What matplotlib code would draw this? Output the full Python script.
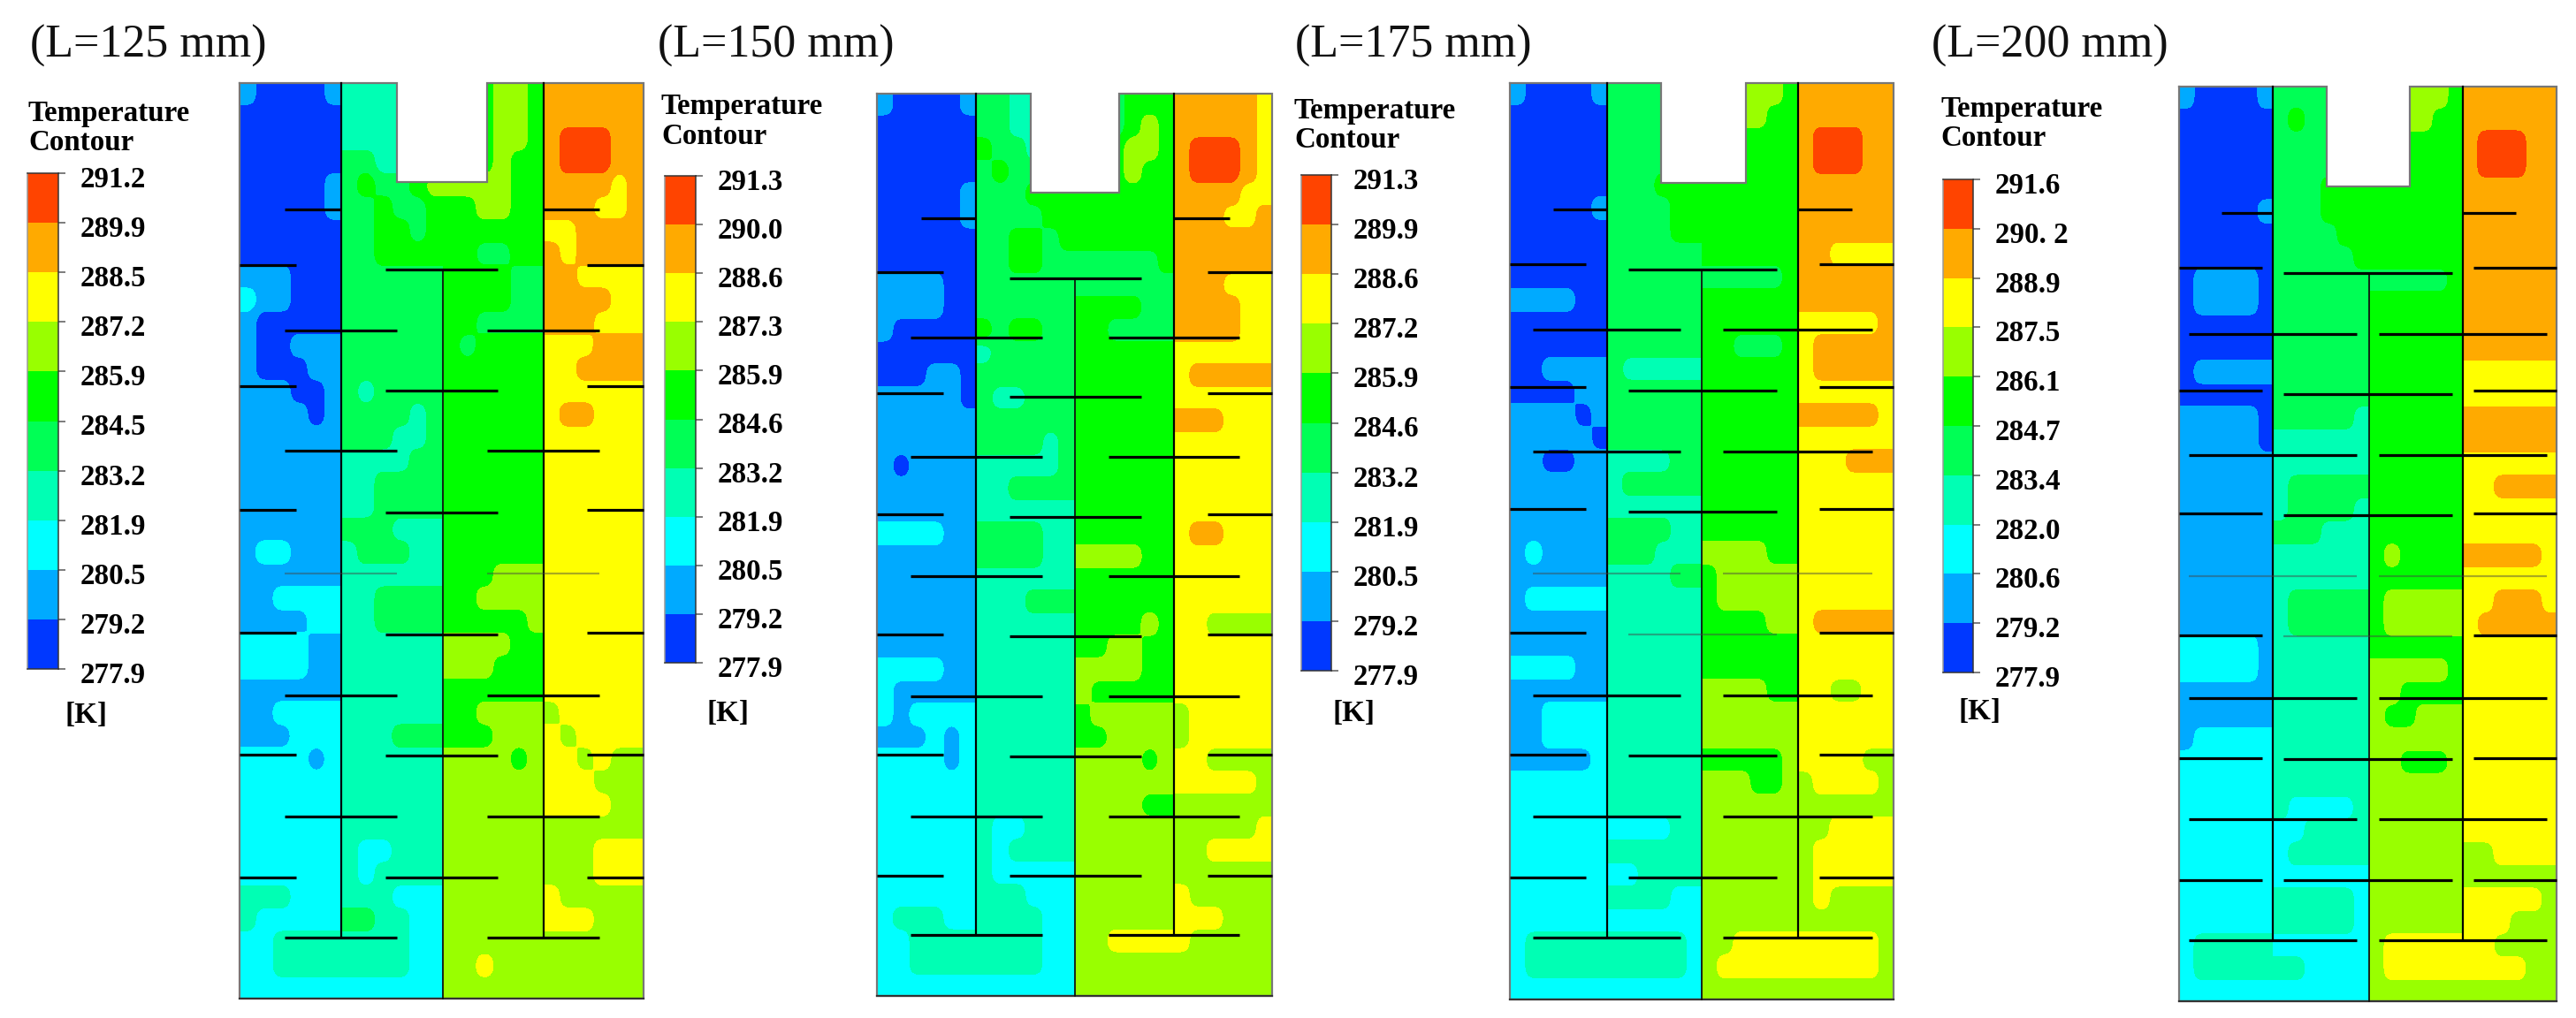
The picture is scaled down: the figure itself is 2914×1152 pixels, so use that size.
import numpy as np
import matplotlib
matplotlib.use("Agg")
import matplotlib.pyplot as plt
from matplotlib.colors import ListedColormap, BoundaryNorm
from matplotlib.patches import Rectangle
from matplotlib.transforms import ScaledTranslation

W, H = 2914, 1152
SERIF = ["Liberation Serif", "DejaVu Serif"]

COLORS = ["#0038ff", "#00aaff", "#00ffff", "#00ffb4", "#00ff55",
          "#00ff00", "#99ff00", "#ffff00", "#ffaa00", "#ff4400"]

TITLES = ["(L=125 mm)", "(L=150 mm)", "(L=175 mm)", "(L=200 mm)"]
LABELS_125 = ["277.9", "279.2", "280.5", "281.9", "283.2", "284.5", "285.9", "287.2", "288.5", "289.9", "291.2"]
LABELS_150 = ["277.9", "279.2", "280.5", "281.9", "283.2", "284.6", "285.9", "287.3", "288.6", "290.0", "291.3"]
LABELS_175 = ["277.9", "279.2", "280.5", "281.9", "283.2", "284.6", "285.9", "287.2", "288.6", "289.9", "291.3"]
LABELS_200 = ["277.9", "279.2", "280.6", "282.0", "283.4", "284.7", "286.1", "287.5", "288.9", "290. 2", "291.6"]

# Temperature band index (0 = coldest) read row by row, four channels per row
FIELD_125 = """100001 333333 555665 888888
000000 333333 555665 888888
000000 333333 555665 899988
000000 443333 555655 899988
000001 454456 666655 888878
000001 445445 556655 888778
000000 445545 555555 778888
000000 445555 554455 878888
111000 444444 555544 887777
211000 444444 555544 888877
100000 444444 554444 888777
100111 444444 545555 777888
100011 444444 555555 778888
111001 434444 555555 777777
111101 444434 555555 788777
111111 444334 555555 777777
111111 333344 555555 777777
111111 334444 555555 777777
111111 334444 555555 777777
111111 444333 555555 777777
122111 344433 555555 777777
111111 333333 555666 777777
112222 334444 556666 777777
111122 334444 555556 777777
222211 333333 666655 777777
222211 333333 666555 777777
111111 333333 555555 777777
112222 333333 556666 677777
111222 333444 555666 767777
222212 333333 666656 776766
222222 333333 666666 777666
222222 333333 666666 777766
222222 333333 666666 666666
222222 322333 666666 666777
222222 323333 666666 666777
333222 333222 666666 766666
322222 443322 666666 777666
223333 333322 666666 666666
223333 333322 667666 666666
222222 222222 666666 666666""".split("\n")

FIELD_150 = """100001 443333 444555 888887
000000 443333 444565 888887
000000 544333 555665 899987
000000 454444 555655 899987
000001 444555 555555 888877
000001 444455 555555 888778
000000 445545 555555 888888
000000 445544 444445 888888
111100 444444 444444 888777
111100 444444 555544 888877
100000 545544 554444 888877
000000 344444 555555 777777
000110 444444 555555 788888
111110 433444 555555 777777
111111 444444 555555 888777
111111 444434 555555 777777
101111 333334 555555 777777
111111 334444 555555 777777
111111 333333 555555 777777
222211 444433 555555 788777
111111 444433 666655 777777
111111 333333 555555 777777
111111 333444 555555 777777
111111 333333 555565 776666
111111 333333 556655 777777
222211 333333 666655 777777
211111 333333 655555 777777
212222 333333 566666 677777
111212 333333 556666 677777
222212 333333 666656 776666
222222 333333 666666 777776
222222 333333 666655 666666
222222 322333 666666 666667
222222 323333 666666 667777
222222 322222 666666 666666
222222 333222 666666 766666
233322 333322 666666 777666
223333 333322 667777 766666
223333 333322 666666 666666
222222 222222 666666 666666""".split("\n")

FIELD_175 = """100001 444444 666665 888888
000000 444444 666655 888888
000000 444444 555555 899988
000000 444444 555555 899988
000000 444555 555555 888888
000001 444455 555555 888888
000000 444455 555555 888888
000000 444444 555555 887777
000000 444444 444445 888888
111100 444444 555555 888888
000000 444444 555555 777778
000000 444444 554445 788888
001111 433333 555555 788888
000011 444444 555555 777777
111101 444444 555555 888887
111110 444444 555555 777777
110011 333344 555555 777888
111111 344444 555555 777777
111111 333333 555555 777777
111111 444433 555555 777777
121111 444333 666655 777777
111111 333344 566666 777777
122222 333333 566666 777777
111111 333333 555566 788888
111111 333333 555555 777777
222211 333333 555555 777777
111111 333333 666655 776677
112222 333333 666666 777777
112222 333333 666666 777777
111112 333333 555556 777766
222222 333333 666556 677776
222222 333333 666666 666666
222222 222233 666666 667777
222222 333333 666666 677777
222222 223333 666666 677777
222222 333322 666666 676666
222222 222222 666666 666666
233333 333332 667777 777776
233333 333332 677777 777776
222222 222222 666666 666666""".split("\n")

FIELD_200 = """100001 444444 666665 888888
000000 454444 666655 888888
000000 444444 555555 899988
000000 444444 555555 899988
000000 444555 555555 888888
000001 444555 555555 888888
000000 444455 555555 888888
000000 444445 555555 888888
011110 444444 444445 888888
011110 444444 555555 888888
000000 444444 555555 888888
000000 444444 555555 888888
011111 444444 555555 777777
000000 444444 555555 777777
111110 444443 555555 888888
111110 333333 555555 888888
111111 333333 555555 777777
111111 344444 555555 778888
111111 344443 555555 777777
111111 444333 555555 777777
111111 333333 565555 888887
111111 333333 555555 777777
111111 344444 566666 778887
111111 344444 566666 788888
222221 333333 555555 777777
222221 333333 666665 777777
111111 333333 665555 777777
111111 333333 655666 777777
122222 333333 666666 777777
222222 333333 665556 777777
222222 333333 666666 777777
222222 322223 666666 777777
222222 223333 666666 777777
222222 233333 666666 667777
222222 222222 666666 666666
222222 333332 666666 777776
222222 333332 666666 777666
233333 222222 677777 776666
233333 332222 677777 777766
222222 222222 666666 666666""".split("\n")

# Layout in pixels of the output image
PANELS = [
    dict(field=FIELD_125, labels=LABELS_125, box=(271, 728, 94, 1130), notch=(449, 551, 206),
         walls=(386, 501, 615), wall_top=305, wall_end=1061,
         short=(322, 678), outer=(335, 664), center=(436, 563), cross=(322, 449, 551, 678),
         y_short=237, y_outer=(300, 437, 577, 716, 854, 993), y_center=(305, 442, 580, 718, 855, 993),
         y_cross=(374, 510, 649, 787, 924, 1061), faint=(649,),
         cbar=(30.5, 66, 196, 757), title=(34, 65), head=(32, 137, 169.5), unit=(98, 810)),
    dict(field=FIELD_150, labels=LABELS_150, box=(992, 1439, 106, 1127), notch=(1166, 1266, 218),
         walls=(1104, 1216, 1328), wall_top=315, wall_end=1058,
         short=(1042, 1391), outer=(1067, 1366), center=(1142, 1291), cross=(1030, 1179, 1254, 1402),
         y_short=247, y_outer=(308, 445, 582, 718, 854, 991), y_center=(315, 449, 585, 720, 856, 991),
         y_cross=(382, 517, 652, 788, 924, 1058), faint=(),
         cbar=(752, 787, 199, 750), title=(744, 65), head=(748, 129, 163), unit=(823, 808)),
    dict(field=FIELD_175, labels=LABELS_175, box=(1708, 2142, 94, 1131), notch=(1878.5, 1974.5, 207),
         walls=(1818, 1925, 2034), wall_top=305, wall_end=1061,
         short=(1757, 2095), outer=(1794, 2058), center=(1842, 2010), cross=(1734, 1901, 1949, 2118),
         y_short=237, y_outer=(299, 438, 576, 716, 854, 993), y_center=(305, 442, 579, 718, 855, 993),
         y_cross=(373, 511, 649, 787, 924, 1061), faint=(649, 718),
         cbar=(1472, 1506, 198, 759), title=(1465, 65), head=(1464, 134, 167), unit=(1531, 808)),
    dict(field=FIELD_200, labels=LABELS_200, box=(2465, 2892, 98, 1133), notch=(2632, 2726, 211),
         walls=(2571, 2680, 2786), wall_top=309, wall_end=1064,
         short=(2513, 2846), outer=(2559, 2798), center=(2583, 2774), cross=(2476, 2666, 2691, 2881),
         y_short=241, y_outer=(303, 442, 581, 719, 858, 996), y_center=(309, 446, 583, 720, 859, 996),
         y_cross=(378, 515, 652, 790, 927, 1064), faint=(652, 720),
         cbar=(2198, 2232, 203, 761), title=(2185, 65), head=(2195, 132, 165), unit=(2239, 805)),
]

px = 0.72  # points per pixel at dpi 100
fig = plt.figure(figsize=(W / 100, H / 100), dpi=100, facecolor="white")
ax = fig.add_axes([0, 0, 1, 1])
ax.set_xlim(0, W)
ax.set_ylim(H, 0)
ax.axis("off")


def smooth(a, k=8, w=5):
    """Refine a block grid and round off the block corners."""
    a = np.repeat(np.repeat(a, k, axis=0), k, axis=1)
    kern = np.ones(w) / w
    pad = w // 2
    for _ in range(2):
        a = np.pad(a, ((pad, pad), (0, 0)), mode="edge")
        a = np.apply_along_axis(lambda r: np.convolve(r, kern, mode="valid"), 0, a)
        a = np.pad(a, ((0, 0), (pad, pad)), mode="edge")
        a = np.apply_along_axis(lambda r: np.convolve(r, kern, mode="valid"), 1, a)
    return a


for p, title in zip(PANELS, TITLES):
    levels = np.array([float(s.replace(" ", "")) for s in p["labels"]])
    mids = (levels[:-1] + levels[1:]) / 2
    rows = [r.split() for r in p["field"]]
    x0, x1, y0, y1 = p["box"]
    edges = [x0, *p["walls"], x1]
    for s in range(4):
        band = np.array([[int(c) for c in r[s]] for r in rows])
        temp = smooth(mids[band])
        xs = np.linspace(edges[s], edges[s + 1], temp.shape[1])
        ys = np.linspace(y0, y1, temp.shape[0])
        ax.contourf(xs, ys, temp, levels=levels, colors=COLORS, zorder=1)

    # notch and outline
    nl, nr, nb = p["notch"]
    ax.add_patch(Rectangle((nl, y0 - 2), nr - nl, nb - y0 + 2, fc="white", ec="none", zorder=2))
    ax.plot([x0, nl, nl, nr, nr, x1, x1, x0, x0], [y0, y0, nb, nb, y0, y0, y1, y1, y0],
            color="#777777", lw=2.2 * px, zorder=4, solid_joinstyle="miter")
    ax.plot([x0, x1], [y1, y1], color="#333333", lw=2.2 * px, zorder=4)

    # walls
    w1, wc, w2 = p["walls"]
    wkw = dict(color="black", lw=2.2 * px, zorder=5)
    ax.plot([w1, w1], [y0, p["wall_end"]], **wkw)
    ax.plot([w2, w2], [y0, p["wall_end"]], **wkw)
    ax.plot([wc, wc], [p["wall_top"], y1], color="#111111", lw=1.8 * px, zorder=5)

    # baffles
    def baffle(a, b, y):
        faint = y in p["faint"]
        ax.plot([a, b], [y, y], color="#444444" if faint else "black",
                alpha=0.45 if faint else 1, lw=(2.2 if faint else 3.2) * px,
                zorder=6, solid_capstyle="butt")

    baffle(p["short"][0], w1, p["y_short"])
    baffle(w2, p["short"][1], p["y_short"])
    for y in p["y_outer"]:
        baffle(x0, p["outer"][0], y)
        baffle(p["outer"][1], x1, y)
    for y in p["y_center"]:
        baffle(p["center"][0], p["center"][1], y)
    for y in p["y_cross"]:
        baffle(p["cross"][0], p["cross"][1], y)
        baffle(p["cross"][2], p["cross"][3], y)

    # colour bar
    cl, cr, ct, cb = p["cbar"]
    cax = fig.add_axes([cl / W, 1 - cb / H, (cr - cl) / W, (cb - ct) / H])
    idx = np.arange(11)
    cax.pcolormesh([0, 1], idx, idx[:-1, None] + 0.5,
                   cmap=ListedColormap(COLORS), norm=BoundaryNorm(idx, 10))
    cax.set_xticks([])
    cax.set_ylim(0, 10)
    cax.yaxis.tick_right()
    cax.set_yticks(idx)
    cax.set_yticklabels(p["labels"], fontfamily=SERIF, fontweight="bold", fontsize=33 * px)
    cax.tick_params(axis="y", length=6, width=1.5 * px, color="#555555", pad=12)
    off = ScaledTranslation(0, -4 / 100, fig.dpi_scale_trans)
    for t in cax.get_yticklabels():
        t.set_transform(t.get_transform() + off)
    for side, sp in cax.spines.items():
        sp.set_linewidth(1.5 * px)
        sp.set_color("#333333" if side != "left" else "#999999")

    # texts
    ax.text(p["title"][0], p["title"][1], title, fontfamily=SERIF, fontsize=52 * px,
            va="baseline", ha="left", color="#111111")
    hx, hy1, hy2 = p["head"]
    ax.text(hx, hy1, "Temperature", fontfamily=SERIF, fontweight="bold", fontsize=33 * px,
            va="baseline", ha="left")
    ax.text(hx, hy2, "Contour", fontfamily=SERIF, fontweight="bold", fontsize=33 * px,
            va="baseline", ha="left")
    ax.text(p["unit"][0], p["unit"][1], "[K]", fontfamily=SERIF, fontweight="bold", fontsize=33 * px,
            va="center", ha="center")

fig.savefig("out.png", dpi=100, facecolor="white")
